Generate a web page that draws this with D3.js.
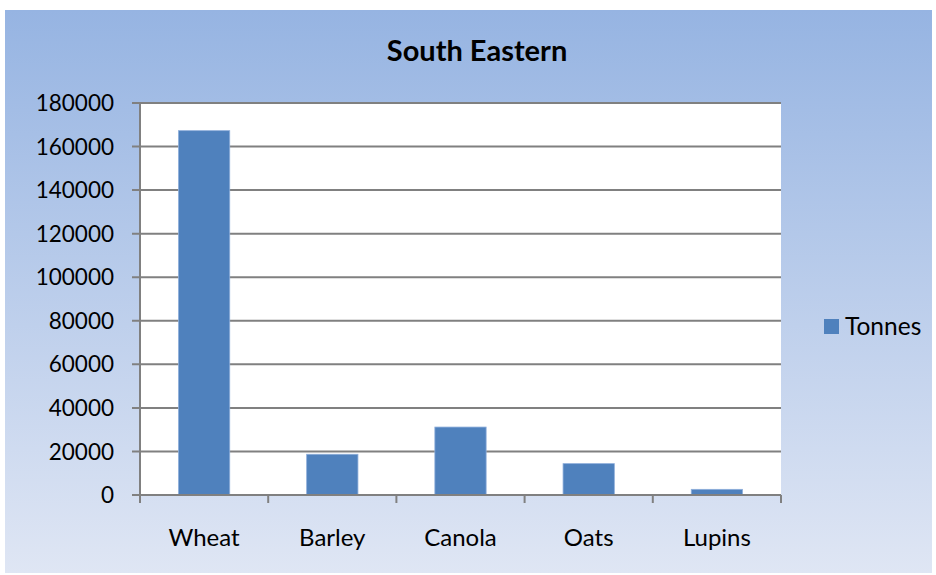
<!DOCTYPE html>
<html lang="en">
	<head>
		<meta charset="utf-8">
		<title>South Eastern</title>
		<script type="text/javascript" src="https://cdn.jsdelivr.net/npm/d3@7"></script>
		<style type="text/css">
			body { margin: 0; background: #fff; }
			text { font-family: Lato, "Open Sans", sans-serif; fill: #000; }
		</style>
	</head>
	<body>
		<script type="text/javascript">

		//Data
		var crops = ["Wheat", "Barley", "Canola", "Oats", "Lupins"];
		var tonnes = [167300, 18700, 31200, 14400, 2600];
		var yTicks = [0, 20000, 40000, 60000, 80000, 100000, 120000, 140000, 160000, 180000];
		var seriesName = "Tonnes";

		//Width and height
		var w = 936;
		var h = 575;
		var plot = { left: 140, right: 781, top: 103, bottom: 495 };

		var svg = d3.select("body")
					.append("svg")
					.attr("width", w)
					.attr("height", h);

		//Background gradient
		var grad = svg.append("defs").append("linearGradient")
					.attr("id", "bg")
					.attr("x1", 0).attr("y1", 0)
					.attr("x2", 0).attr("y2", 1);
		grad.append("stop").attr("offset", "0%").attr("stop-color", "#96b4e2");
		grad.append("stop").attr("offset", "100%").attr("stop-color", "#dfe6f4");

		svg.append("rect")
			.attr("x", 5).attr("y", 10)
			.attr("width", 927).attr("height", 563)
			.attr("fill", "url(#bg)");

		//Title
		svg.append("text")
			.attr("x", 477)
			.attr("y", 61)
			.attr("text-anchor", "middle")
			.style("font-size", "29px")
			.style("font-weight", "bold")
			.text("South Eastern");

		//Plot area
		svg.append("rect")
			.attr("x", plot.left).attr("y", plot.top)
			.attr("width", plot.right - plot.left)
			.attr("height", plot.bottom - plot.top)
			.attr("fill", "#fff");

		var x = d3.scaleBand()
					.domain(crops)
					.range([plot.left, plot.right])
					.paddingInner(0.6)
					.paddingOuter(0.3);

		var y = d3.scaleLinear()
					.domain([0, 180000])
					.range([plot.bottom, plot.top]);

		//Gridlines
		svg.append("g")
			.selectAll("line")
			.data(yTicks)
			.enter()
			.append("line")
			.attr("x1", plot.left - 8)
			.attr("x2", plot.right)
			.attr("y1", function(d) { return y(d); })
			.attr("y2", function(d) { return y(d); })
			.attr("stroke", "#808080")
			.attr("stroke-width", 2);

		//Y labels
		svg.append("g")
			.selectAll("text")
			.data(yTicks)
			.enter()
			.append("text")
			.attr("x", 114)
			.attr("y", function(d) { return y(d); })
			.attr("dy", "0.36em")
			.attr("text-anchor", "end")
			.style("font-size", "22.5px")
			.text(function(d) { return d; });

		//Bars
		svg.append("g")
			.selectAll("rect")
			.data(tonnes)
			.enter()
			.append("rect")
			.attr("x", function(d, i) { return x(crops[i]); })
			.attr("y", function(d) { return y(d); })
			.attr("width", x.bandwidth())
			.attr("height", function(d) { return plot.bottom - y(d); })
			.attr("fill", "#4f81bd")
			.attr("stroke", "#8eaedb")
			.attr("stroke-width", 0.8);

		//Axes lines
		svg.append("line")
			.attr("x1", plot.left).attr("x2", plot.left)
			.attr("y1", plot.top).attr("y2", plot.bottom + 8)
			.attr("stroke", "#808080").attr("stroke-width", 2);

		svg.append("line")
			.attr("x1", plot.left - 8).attr("x2", plot.right)
			.attr("y1", plot.bottom).attr("y2", plot.bottom)
			.attr("stroke", "#808080").attr("stroke-width", 2);

		//Category tick marks
		var step = (plot.right - plot.left) / crops.length;
		svg.append("g")
			.selectAll("line")
			.data(d3.range(crops.length + 1))
			.enter()
			.append("line")
			.attr("x1", function(d) { return plot.left + d * step; })
			.attr("x2", function(d) { return plot.left + d * step; })
			.attr("y1", plot.bottom)
			.attr("y2", plot.bottom + 8)
			.attr("stroke", "#808080")
			.attr("stroke-width", 2);

		//Category labels
		svg.append("g")
			.selectAll("text")
			.data(crops)
			.enter()
			.append("text")
			.attr("x", function(d) { return x(d) + x.bandwidth() / 2; })
			.attr("y", 546)
			.attr("text-anchor", "middle")
			.style("font-size", "24px")
			.text(function(d) { return d; });

		//Legend
		svg.append("rect")
			.attr("x", 824).attr("y", 319)
			.attr("width", 15).attr("height", 15)
			.attr("fill", "#4f81bd");

		svg.append("text")
			.attr("x", 845)
			.attr("y", 335)
			.style("font-size", "24.5px")
			.text(seriesName);

		</script>
	</body>
</html>
